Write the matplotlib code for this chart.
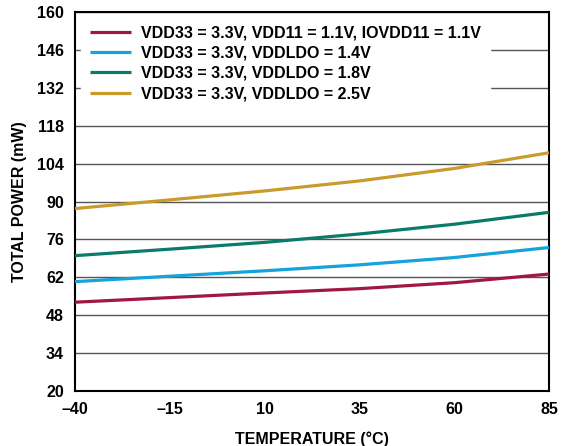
import matplotlib
matplotlib.use("Agg")
import matplotlib.pyplot as plt

plt.rcParams['font.family'] = ['Liberation Sans', 'DejaVu Sans']

temps = [-40, -15, 10, 35, 60, 85]
p_vdd11 = [52.8, 54.5, 56.2, 57.8, 60.0, 63.2]
p_ldo14 = [60.4, 62.4, 64.4, 66.6, 69.3, 73.0]
p_ldo18 = [70.0, 72.4, 74.9, 78.0, 81.6, 86.0]
p_ldo25 = [87.4, 90.6, 93.9, 97.6, 102.2, 108.0]

labels = [
    "VDD33 = 3.3V, VDD11 = 1.1V, IOVDD11 = 1.1V",
    "VDD33 = 3.3V, VDDLDO = 1.4V",
    "VDD33 = 3.3V, VDDLDO = 1.8V",
    "VDD33 = 3.3V, VDDLDO = 2.5V",
]
colors = ["#A0173F", "#14A3DA", "#0A7A6B", "#C99A2C"]
series = [p_vdd11, p_ldo14, p_ldo18, p_ldo25]

xticks = [-40, -15, 10, 35, 60, 85]
xticklabels = ["\u201340", "\u201315", "10", "35", "60", "85"]
yticks = [20, 34, 48, 62, 76, 90, 104, 118, 132, 146, 160]

FS = 11.5

fig = plt.figure(figsize=(5.70, 4.46), dpi=100)
ax = fig.add_axes([75/570, 1-391/446, (549-75)/570, (391-12)/446])

for y, c, lab in zip(series, colors, labels):
    ax.plot(temps, y, color=c, lw=2.3, label=lab, solid_capstyle='butt', zorder=3)

ax.set_xlim(-40, 85)
ax.set_ylim(20, 160)
ax.set_xticks(xticks)
ax.set_xticklabels(xticklabels)
ax.set_yticks(yticks)
ax.yaxis.grid(True, color='#555555', lw=1.0)
ax.set_axisbelow(True)
ax.tick_params(axis='both', length=0, labelsize=FS, pad=8)
for lbl in ax.get_xticklabels() + ax.get_yticklabels():
    lbl.set_fontweight('bold')
for s in ax.spines.values():
    s.set_linewidth(1.5)
    s.set_color('black')

ax.set_xlabel("TEMPERATURE (\u00b0C)", fontsize=FS, fontweight='bold', labelpad=10)
ax.set_ylabel("TOTAL POWER (mW)", fontsize=FS, fontweight='bold', labelpad=7)

leg = ax.legend(loc='upper left', bbox_to_anchor=(0.012, 0.99), frameon=True,
                fancybox=False, edgecolor='white', facecolor='white', framealpha=1,
                prop={'weight': 'bold', 'size': FS}, handlelength=2.55,
                handletextpad=0.62, labelspacing=0.33, borderpad=0.6, borderaxespad=0.0)
leg.set_zorder(4)

fig.savefig("out.png", dpi=100)
